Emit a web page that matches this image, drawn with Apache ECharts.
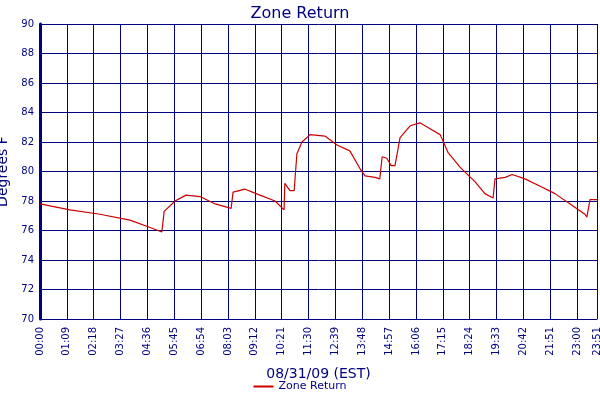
<!DOCTYPE html>
<html>
<head>
<meta charset="utf-8">
<script src="https://cdn.jsdelivr.net/npm/echarts@6/dist/echarts.min.js"></script>
<style>html,body{margin:0;padding:0;background:#fff}#main{width:600px;height:400px}</style>
</head>
<body>
<div id="main"></div>
<script>
// minutes since midnight
var minutes = [0, 77, 154, 231, 283, 313, 319, 347, 375, 411, 450, 491, 496, 527, 565, 604, 627, 629, 642, 653, 660, 673, 694, 732, 763, 796, 822, 835, 861, 873, 879, 891, 902, 912, 925, 951, 976, 1002, 1028, 1048, 1079, 1118, 1143, 1164, 1169, 1195, 1213, 1246, 1285, 1323, 1362, 1400, 1405, 1413, 1431];
var temps = [77.8, 77.4, 77.1, 76.7, 76.2, 75.9, 77.3, 78.0, 78.4, 78.3, 77.8, 77.5, 78.6, 78.8, 78.4, 78.0, 77.4, 79.2, 78.7, 78.7, 81.2, 82.0, 82.5, 82.4, 81.8, 81.4, 80.2, 79.7, 79.6, 79.5, 81.0, 80.9, 80.4, 80.4, 82.3, 83.1, 83.3, 82.9, 82.5, 81.3, 80.3, 79.3, 78.5, 78.2, 79.5, 79.6, 79.8, 79.5, 79.0, 78.5, 77.8, 77.1, 76.9, 78.1, 78.1];
var navy = '#000080';

var myChart = echarts.init(document.getElementById('main'));
var option = {
    animation: false,
    textStyle: { fontFamily: 'DejaVu Sans' },
    title: {
        text: 'Zone Return', left: 'center', top: 1,
        textStyle: { color: navy, fontSize: 16, fontWeight: 'normal' }
    },
    legend: {
        bottom: 3, left: 'center', itemWidth: 20, itemHeight: 2, itemGap: 4,
        textStyle: { color: navy, fontSize: 11 },
        data: [{ name: 'Zone Return', icon: 'rect' }]
    },
    grid: { left: 40, right: 3, top: 24, bottom: 81, containLabel: false, outerBoundsMode: 'none' },
    xAxis: {
        type: 'value', min: 0, max: 1431, interval: 69,
        name: '08/31/09 (EST)', nameLocation: 'middle', nameGap: 48,
        nameTextStyle: { color: navy, fontSize: 14 },
        axisLine: { lineStyle: { color: navy } },
        axisTick: { show: false },
        splitLine: { show: true, lineStyle: { color: navy, width: 1 } },
        axisLabel: {
            rotate: 90, color: navy, fontSize: 10, showMaxLabel: true,
            formatter: function (v) {
                var h = Math.floor(v / 60), m = v % 60;
                return (h < 10 ? '0' : '') + h + ':' + (m < 10 ? '0' : '') + m;
            }
        }
    },
    yAxis: {
        type: 'value', min: 70, max: 90, interval: 2,
        name: 'Degrees F', nameLocation: 'middle', nameGap: 26,
        nameTextStyle: { color: navy, fontSize: 14 },
        axisLine: { show: true, lineStyle: { color: navy, width: 3 } },
        axisTick: { show: false },
        splitLine: { lineStyle: { color: navy, width: 1 } },
        axisLabel: { color: navy, fontSize: 10, margin: 6 }
    },
    series: [{
        name: 'Zone Return', type: 'line', showSymbol: false,
        lineStyle: { color: '#cc0000', width: 1.2 },
        itemStyle: { color: '#cc0000' },
        data: minutes.map(function (m, i) { return [m, temps[i]]; })
    }]
};
myChart.setOption(option);
</script>
</body>
</html>
